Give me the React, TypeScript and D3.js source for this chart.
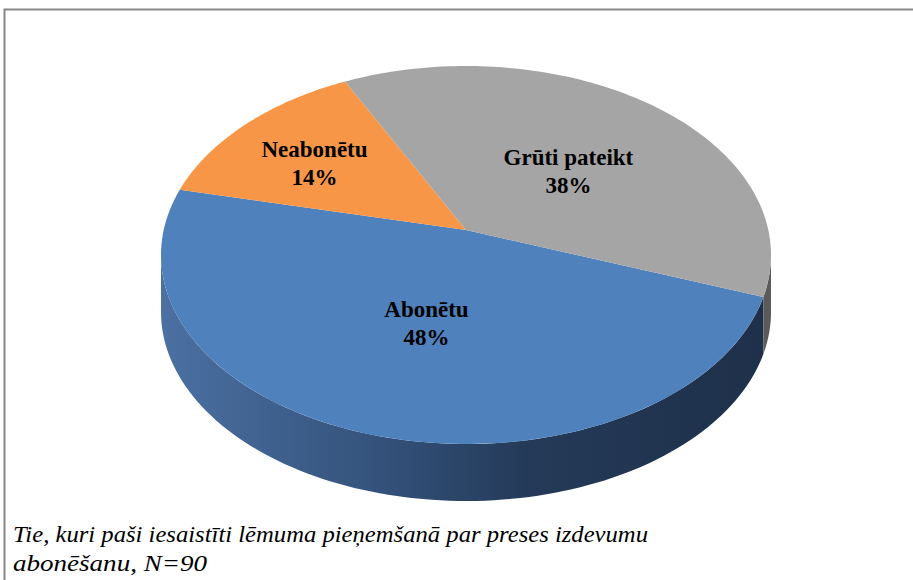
import React from 'react';
import * as d3 from 'd3';

const categories = ['Abonētu', 'Neabonētu', 'Grūti pateikt'];
const values = [48, 14, 38];
const topColors = ['#4f81bd', '#f79646', '#a5a5a5'];
const captionLines = [
  'Tie, kuri paši iesaistīti lēmuma pieņemšanā par preses izdevumu',
  'abonēšanu,  N=90',
];

const W = 913;
const H = 580;
const cx = 466;
const cy = 255;
const rx = 305;
const ry = 189;
const depth = 57;
const apexY = 230;
const tilt = (7.6 * Math.PI) / 180;
const start = (110 * Math.PI) / 180;
const serif =
  'Tinos, "Liberation Serif", "Times New Roman", Times, "Nimbus Roman", "Nimbus Roman No9 L", FreeSerif, "Noto Serif", "DejaVu Serif", Georgia, serif';

const warp = (a: number) => {
  const s = a - Math.PI / 2;
  return s - tilt * Math.cos(s);
};
const rim = (phi: number, dy = 0): [number, number] => [cx + rx * Math.cos(phi), cy + ry * Math.sin(phi) + dy];

const pie = d3
  .pie<number>()
  .sort(null)
  .value((d) => d)
  .startAngle(start)
  .endAngle(start + 2 * Math.PI);
const arcs = pie(values);
const total = d3.sum(values);
const line = d3.line();

function topPoly(a: d3.PieArcDatum<number>): [number, number][] {
  const p0 = warp(a.startAngle);
  const p1 = warp(a.endAngle);
  const n = 120;
  const pts: [number, number][] = [[cx, apexY]];
  for (let i = 0; i <= n; i++) pts.push(rim(p0 + ((p1 - p0) * i) / n));
  return pts;
}

function sidePaths(a: d3.PieArcDatum<number>): string[] {
  const p0 = warp(a.startAngle);
  const p1 = warp(a.endAngle);
  const out: string[] = [];
  for (const k of [-1, 0, 1, 2]) {
    const lo = Math.max(p0, k * 2 * Math.PI);
    const hi = Math.min(p1, k * 2 * Math.PI + Math.PI);
    if (hi > lo) {
      const n = 100;
      const pts: [number, number][] = [];
      for (let i = 0; i <= n; i++) pts.push(rim(lo + ((hi - lo) * i) / n));
      for (let i = n; i >= 0; i--) pts.push(rim(lo + ((hi - lo) * i) / n, depth));
      out.push(line(pts) + 'Z');
    }
  }
  return out;
}

const sideFills = ['url(#blueSide)', '#b46a2e', '#5a5a5a'];

export default function App() {
  return (
    <svg width={W} height={H} style={{ position: 'absolute', left: 0, top: 0 }}>
      <defs>
        <linearGradient id="blueSide" gradientUnits="userSpaceOnUse" x1={cx - rx} x2={cx + rx} y1={0} y2={0}>
          <stop offset="0" stopColor="#4b70a2" />
          <stop offset="0.35" stopColor="#34537c" />
          <stop offset="0.6" stopColor="#243a58" />
          <stop offset="1" stopColor="#1e3049" />
        </linearGradient>
      </defs>
      <rect x={0} y={0} width={W} height={H} fill="#ffffff" />
      <path d={`M4.5,${H} V9.5 H${W}`} fill="none" stroke="#878787" strokeWidth={2} />
      {arcs.map((a, i) =>
        sidePaths(a).map((d, j) => <path key={`s${i}-${j}`} d={d} fill={sideFills[i]} />)
      )}
      {arcs.map((a, i) => (
        <path key={`t${i}`} d={line(topPoly(a)) + 'Z'} fill={topColors[i]} />
      ))}
      {arcs.map((a, i) => {
        const [lx, ly] = d3.polygonCentroid(topPoly(a));
        return (
          <text
            key={`l${i}`}
            x={lx}
            textAnchor="middle"
            fontFamily={serif}
            fontWeight="bold"
            fontSize={23}
            fill="#000"
          >
            <tspan x={lx - 7} y={ly - 6}>{categories[i]}</tspan>
            <tspan x={lx - 7} y={ly + 22}>{`${Math.round((values[i] / total) * 100)}%`}</tspan>
          </text>
        );
      })}
      {captionLines.map((t, i) => (
        <text
          key={`c${i}`}
          x={13}
          y={542 + i * 29}
          fontFamily={serif}
          fontStyle="italic"
          fontSize={24}
          textLength={i === 0 ? 635 : 194}
          lengthAdjust="spacingAndGlyphs"
          fill="#000"
        >
          {t}
        </text>
      ))}
    </svg>
  );
}
